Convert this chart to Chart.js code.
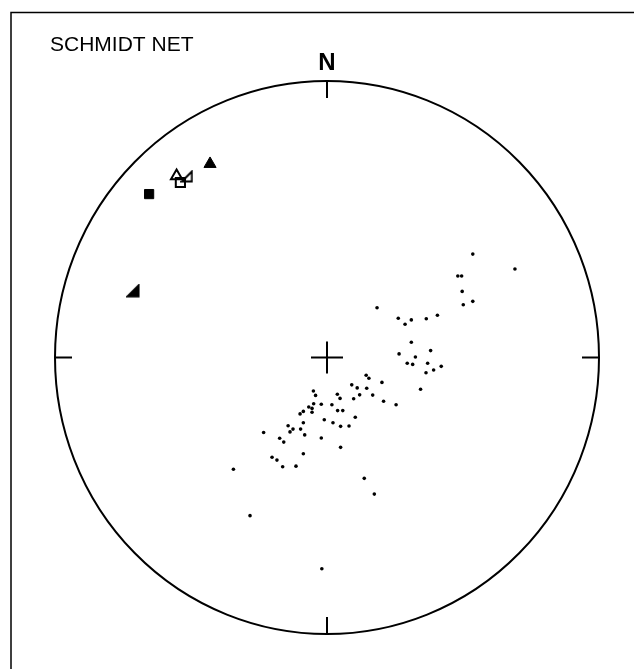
<!DOCTYPE html>
<html>
<head>
<meta charset="utf-8">
<script src="https://cdn.jsdelivr.net/npm/chart.js@4/dist/chart.umd.min.js"></script>
<style>
  html, body { margin: 0; padding: 0; background: #fff; }
  #wrap { position: relative; width: 634px; height: 669px; }
</style>
</head>
<body>
<div id="wrap"><canvas id="c" width="634" height="669"></canvas></div>
<script>
// Net coordinates (unit circle), x = east, y = north
const titleText = "SCHMIDT NET";
const northLabel = "N";

const dotsX = [0.536,0.691,0.481,0.495,0.497,0.501,0.536,0.184,0.262,0.287,0.310,0.365,0.406,0.310,0.381,0.265,0.325,0.295,0.315,0.370,0.420,0.392,0.364,0.144,0.154,0.202,0.091,0.111,0.146,0.344,-0.050,-0.042,0.038,0.048,0.120,0.168,0.098,0.208,0.254,-0.049,-0.021,0.018,-0.067,-0.055,-0.055,-0.087,-0.099,0.039,0.058,0.104,-0.010,0.022,-0.087,0.050,0.081,-0.143,-0.125,-0.136,-0.097,-0.233,-0.082,-0.174,-0.159,-0.021,0.050,-0.087,-0.202,-0.184,-0.163,-0.114,-0.344,0.137,0.174,-0.283,-0.019];
const dotsY = [0.374,0.320,0.295,0.295,0.239,0.191,0.203,0.180,0.142,0.120,0.136,0.140,0.153,0.055,0.025,0.013,0.002,-0.021,-0.025,-0.021,-0.032,-0.045,-0.055,-0.064,-0.075,-0.090,-0.099,-0.110,-0.111,-0.115,-0.121,-0.137,-0.133,-0.148,-0.135,-0.136,-0.149,-0.158,-0.171,-0.167,-0.169,-0.171,-0.179,-0.184,-0.198,-0.195,-0.204,-0.192,-0.192,-0.216,-0.225,-0.236,-0.236,-0.249,-0.248,-0.247,-0.259,-0.269,-0.259,-0.271,-0.280,-0.292,-0.306,-0.291,-0.325,-0.348,-0.361,-0.371,-0.395,-0.393,-0.404,-0.437,-0.494,-0.572,-0.764];

const filledTriX = [-0.430];   const filledTriY = [0.700];
const filledSqX  = [-0.654];   const filledSqY  = [0.591];
const filledRtX  = [-0.713];   const filledRtY  = [0.241];
const openTriX   = [-0.553];   const openTriY   = [0.656];
const openRtX    = [-0.515];   const openRtY    = [0.655];
const openSqX    = [-0.539];   const openSqY    = [0.633];

function pts(xs, ys) { return xs.map((x, i) => ({ x: x, y: ys[i] })); }

function rightTri(size, filled) {
  const cv = document.createElement('canvas');
  cv.width = size + 3; cv.height = size + 3;
  const g = cv.getContext('2d');
  g.beginPath();
  g.moveTo(size + 1.5, 1.5);
  g.lineTo(size + 1.5, size + 1.5);
  g.lineTo(1.5, size + 1.5);
  g.closePath();
  g.lineWidth = 2;
  g.strokeStyle = '#000';
  if (filled) { g.fillStyle = '#000'; g.fill(); }
  g.stroke();
  return cv;
}

const netPlugin = {
  id: 'net',
  beforeDatasetsDraw(chart) {
    const ctx = chart.ctx;
    const xs = chart.scales.x, ys = chart.scales.y;
    const cx = xs.getPixelForValue(0), cy = ys.getPixelForValue(0);
    const rx = xs.getPixelForValue(1) - cx, ry = cy - ys.getPixelForValue(1);
    ctx.save();
    ctx.strokeStyle = '#000';
    // frame
    ctx.lineWidth = 1.5;
    ctx.beginPath();
    ctx.moveTo(11, 669); ctx.lineTo(11, 12.5); ctx.lineTo(634, 12.5);
    ctx.stroke();
    // primitive circle
    ctx.lineWidth = 2;
    ctx.beginPath();
    ctx.ellipse(cx, cy, rx, ry, 0, 0, Math.PI * 2);
    ctx.stroke();
    // ticks
    const t = 17;
    ctx.beginPath();
    ctx.moveTo(cx, cy - ry); ctx.lineTo(cx, cy - ry + t);
    ctx.moveTo(cx, cy + ry); ctx.lineTo(cx, cy + ry - t);
    ctx.moveTo(cx - rx, cy); ctx.lineTo(cx - rx + t, cy);
    ctx.moveTo(cx + rx, cy); ctx.lineTo(cx + rx - t, cy);
    // centre cross
    const h = 16;
    ctx.moveTo(cx - h, cy); ctx.lineTo(cx + h, cy);
    ctx.moveTo(cx, cy - h); ctx.lineTo(cx, cy + h);
    ctx.stroke();
    // text
    ctx.fillStyle = '#000';
    ctx.textBaseline = 'alphabetic';
    ctx.textAlign = 'left';
    ctx.font = '21px "Liberation Sans", Arial, sans-serif';
    ctx.fillText(titleText, 50, 51);
    ctx.textAlign = 'center';
    ctx.font = 'bold 24px "Liberation Sans", Arial, sans-serif';
    ctx.fillText(northLabel, cx, 70);
    ctx.restore();
  }
};

new Chart(document.getElementById('c'), {
  type: 'scatter',
  data: {
    datasets: [
      { label: 'poles', data: pts(dotsX, dotsY), pointStyle: 'circle', pointRadius: 1.8,
        backgroundColor: '#000', borderColor: '#000', borderWidth: 0 },
      { label: 'filled triangle', data: pts(filledTriX, filledTriY), pointStyle: 'triangle', pointRadius: 7,
        backgroundColor: '#000', borderColor: '#000', borderWidth: 1 },
      { label: 'filled square', data: pts(filledSqX, filledSqY), pointStyle: 'rect', pointRadius: 6.5,
        backgroundColor: '#000', borderColor: '#000', borderWidth: 1 },
      { label: 'filled right triangle', data: pts(filledRtX, filledRtY), pointStyle: rightTri(11, true), pointRadius: 7 },
      { label: 'open triangle', data: pts(openTriX, openTriY), pointStyle: 'triangle', pointRadius: 6.5,
        backgroundColor: 'rgba(0,0,0,0)', borderColor: '#000', borderWidth: 2 },
      { label: 'open right triangle', data: pts(openRtX, openRtY), pointStyle: rightTri(10, false), pointRadius: 7 },
      { label: 'open square', data: pts(openSqX, openSqY), pointStyle: 'rect', pointRadius: 6.5,
        backgroundColor: 'rgba(0,0,0,0)', borderColor: '#000', borderWidth: 2 }
    ]
  },
  options: {
    responsive: false,
    animation: false,
    layout: { padding: { left: 55, right: 35, top: 81, bottom: 35 } },
    scales: {
      x: { type: 'linear', min: -1, max: 1, display: false },
      y: { type: 'linear', min: -1, max: 1, display: false }
    },
    plugins: { legend: { display: false }, tooltip: { enabled: false }, title: { display: false } },
    elements: { point: { hoverRadius: 0 } }
  },
  plugins: [netPlugin]
});
</script>
</body>
</html>
